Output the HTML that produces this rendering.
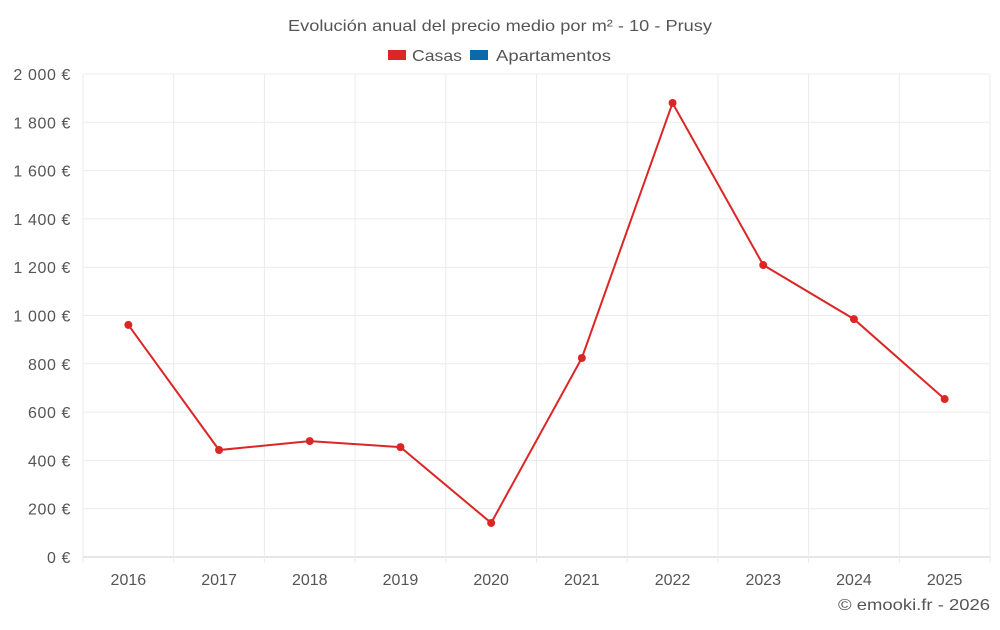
<!DOCTYPE html>
<html><head><meta charset="utf-8"><style>
body{margin:0;background:#fff;font-family:"Liberation Sans",sans-serif;}
svg text{font-family:"Liberation Sans",sans-serif;fill:#555;}
</style></head><body>
<svg id="chart" width="1000" height="625">
<text x="288" y="31" font-size="16" textLength="424" lengthAdjust="spacingAndGlyphs">Evolución anual del precio medio por m² - 10 - Prusy</text>
<g>
<g><rect x="388" y="50" width="18" height="10" fill="#dc2626"/><text x="412" y="61" font-size="16" textLength="50" lengthAdjust="spacingAndGlyphs">Casas</text></g>
<g><rect x="470" y="50" width="18" height="10" fill="#0d6aa8"/><text x="496" y="61" font-size="16" textLength="115" lengthAdjust="spacingAndGlyphs">Apartamentos</text></g>
</g>
<g id="grid"></g><g id="axes"></g><g id="series"></g>
<text x="838" y="610" font-size="16" textLength="152" lengthAdjust="spacingAndGlyphs">© emooki.fr - 2026</text>
</svg>
<script>
const categories=["2016","2017","2018","2019","2020","2021","2022","2023","2024","2025"];
const casas=[961,443,480,455,141,824,1880,1209,985,654];
const yTicks=[0,200,400,600,800,1000,1200,1400,1600,1800,2000];
const yTickLabels=["0 €","200 €","400 €","600 €","800 €","1 000 €","1 200 €","1 400 €","1 600 €","1 800 €","2 000 €"];
const L=83,R=990,T=74,B=557,yMax=2000;
const NS="http://www.w3.org/2000/svg";
const bw=(R-L)/categories.length;
const xs=i=>L+bw*(i+0.5);
const ys=v=>B-(v/yMax)*(B-T);
function mk(tag,attrs,parent){const e=document.createElementNS(NS,tag);for(const k in attrs)e.setAttribute(k,attrs[k]);parent.appendChild(e);return e;}
const g=document.getElementById('grid'),ax=document.getElementById('axes'),s=document.getElementById('series');
yTicks.forEach((v,i)=>{
 const l=mk('line',{x1:L,x2:R,y1:ys(v),y2:ys(v),stroke:i===0?'#ccc':'#ebebeb'},g);
 
 
 const t=mk('text',{x:71,y:ys(v)+6,'text-anchor':'end','font-size':'16','letter-spacing':'0.6'},ax);
 t.textContent=yTickLabels[i];
 
 
});
for(let i=0;i<=categories.length;i++){
 const l=mk('line',{x1:L+bw*i,x2:L+bw*i,y1:T,y2:B+6,stroke:'#ebebeb'},g);
 
 
}
categories.forEach((c,i)=>{
 const t=mk('text',{x:xs(i),y:585,'text-anchor':'middle','font-size':'16'},ax);
 t.textContent=c;
 
 
});
const p=mk('polyline',{points:casas.map((v,i)=>xs(i)+','+ys(v)).join(' '),fill:'none',stroke:'#dc2626','stroke-width':2},s);


casas.forEach((v,i)=>{
 const c=mk('circle',{cx:xs(i),cy:ys(v),r:4,fill:'#dc2626'},s);
 
 
});
</script>
</body></html>
